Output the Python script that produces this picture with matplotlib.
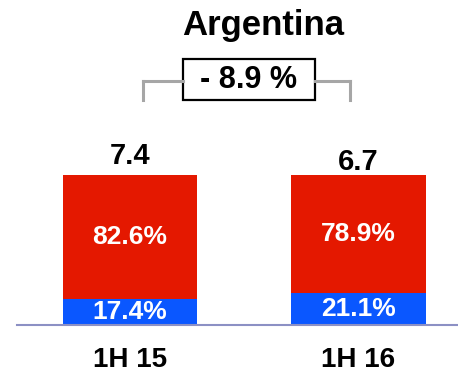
import matplotlib
matplotlib.use("Agg")
import matplotlib.pyplot as plt
from matplotlib.lines import Line2D
from matplotlib.patches import Rectangle

plt.rcParams['font.family'] = ['Liberation Sans', 'DejaVu Sans']
plt.rcParams['font.weight'] = 'bold'

title = "Argentina"
categories = ["1H 15", "1H 16"]
totals = [7.4, 6.7]
blue_share = [17.4, 21.1]
red_share = [82.6, 78.9]
change_label = "- 8.9 %"

RED = "#e41800"
BLUE = "#0a57ff"
W, H = 458, 374

fig = plt.figure(figsize=(W / 100, H / 100), dpi=100)

def fx(px):
    return px / W

def fy(py):
    return 1 - py / H

# bar axes: baseline at y=325px, 100% at y=175px
ax = fig.add_axes([fx(17), fy(325), fx(458) - fx(17), (325 - 175) / H])
x = [0, 1]
ax.bar(x, blue_share, width=0.59, color=BLUE)
ax.bar(x, red_share, bottom=blue_share, width=0.59, color=RED)
ax.set_xlim(-0.4945, 1.4354)
ax.set_ylim(0, 100)

total_gap = [3, -0.5]
for i in x:
    ax.text(i, blue_share[i] / 2, f"{blue_share[i]:.1f}%", ha='center', va='center',
            color='white', fontsize=19, fontweight='bold')
    ax.text(i, blue_share[i] + red_share[i] / 2, f"{red_share[i]:.1f}%", ha='center',
            va='center', color='white', fontsize=19, fontweight='bold')
    ax.text(i, 100 + total_gap[i], f"{totals[i]:.1f}", ha='center', va='bottom',
            color='black', fontsize=21, fontweight='bold')

for s in ['top', 'right', 'left']:
    ax.spines[s].set_visible(False)
ax.spines['bottom'].set_color('#8c90c4')
ax.spines['bottom'].set_linewidth(1.5)
ax.set_yticks([])
ax.set_xticks(x)
ax.set_xticklabels(categories, fontsize=20, fontweight='bold')
ax.tick_params(axis='x', length=0, pad=16)

fig.text(fx(263), fy(25), title, ha='center', va='center', fontsize=25, fontweight='bold')

# change bracket
gray = '#a6a6a6'
for xs, ys in [([143, 183], [81, 81]), ([315, 350], [81, 81]),
               ([143, 143], [81, 100]), ([350, 350], [81, 100])]:
    fig.add_artist(Line2D([fx(v) for v in xs], [fy(v) for v in ys], color=gray, lw=2.2))
fig.add_artist(Rectangle((fx(183), fy(100)), fx(315) - fx(183), fy(59) - fy(100),
                         fill=True, facecolor='white', edgecolor='black', lw=1.6,
                         transform=fig.transFigure))
fig.text(fx(249), fy(80), change_label, ha='center', va='center', fontsize=22,
         fontweight='bold')

fig.savefig("out.png", dpi=100)
